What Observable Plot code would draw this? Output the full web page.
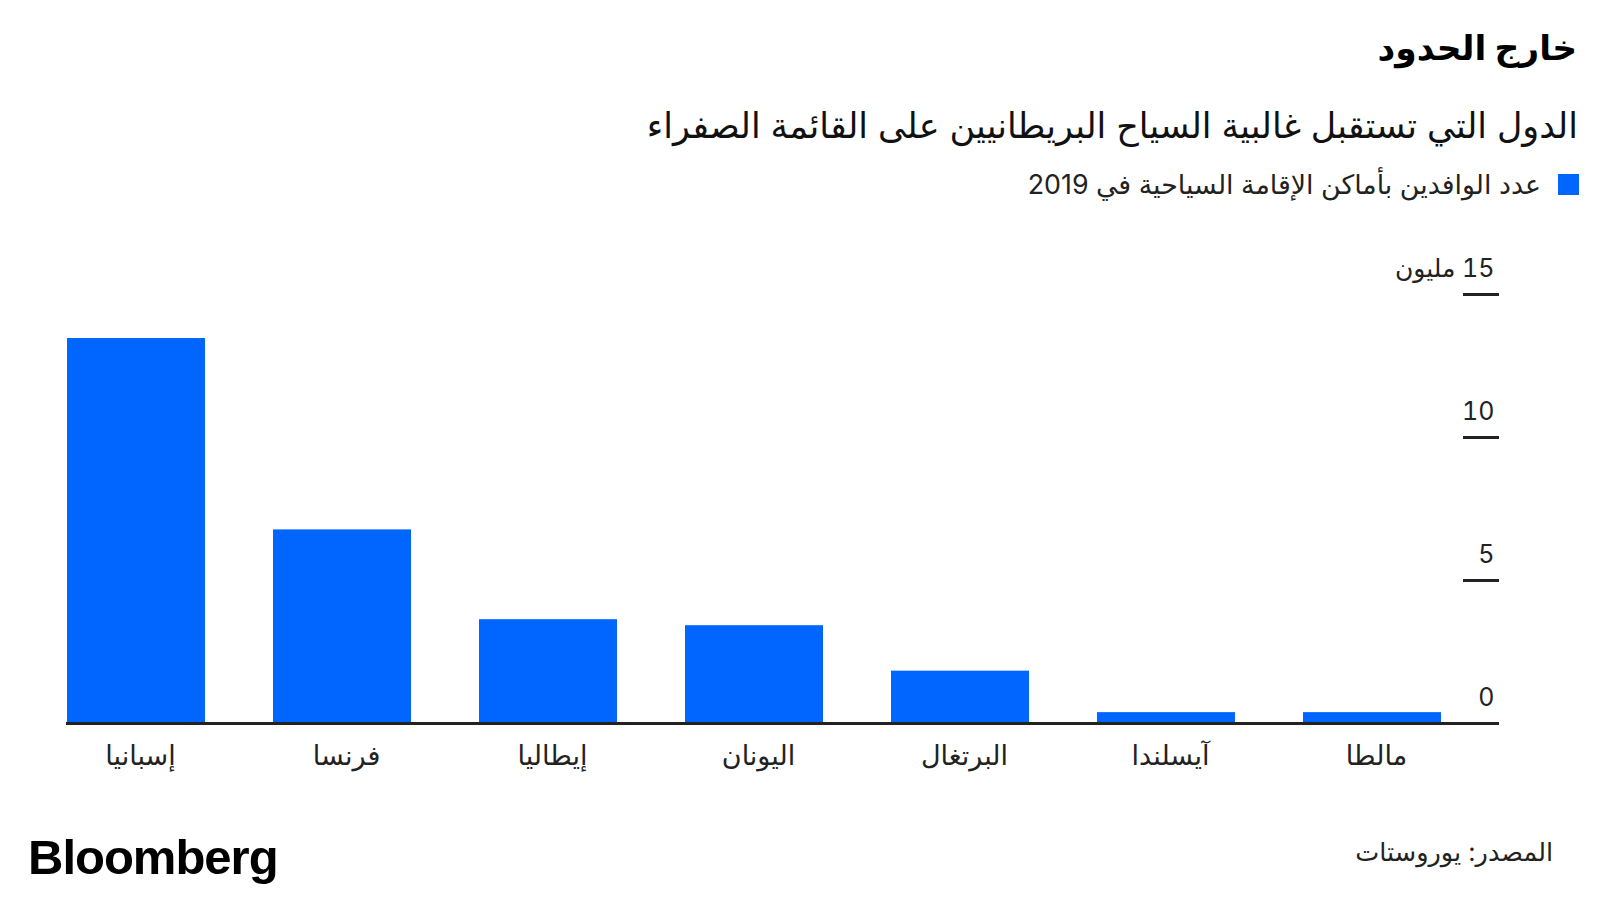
<!DOCTYPE html>
<html lang="ar">
<head>
<meta charset="utf-8">
<script src="https://cdn.jsdelivr.net/npm/d3@7"></script>
<script src="https://cdn.jsdelivr.net/npm/@observablehq/plot@0.6"></script>
<style>
  html, body { margin: 0; padding: 0; background: #fff; }
  body { width: 1600px; height: 900px; position: relative; overflow: hidden;
         font-family: Inter, "DejaVu Sans", sans-serif; color: #111; }
  .rtl { position: absolute; direction: rtl; text-align: right; white-space: nowrap; line-height: 1; }
  #title { right: 23px; top: 31px; font-size: 34.5px; font-weight: 700; color: #000; }
  #subtitle { right: 22px; top: 108px; font-size: 35px; color: #111; }
  #legend { right: 21px; top: 171px; font-size: 26.8px; color: #222; display: flex; align-items: center; gap: 17px; }
  #legend .sw { width: 21px; height: 21px; background: #0066ff; display: inline-block; }
  #chart { position: absolute; left: 0; top: 230px; }
  #source { right: 47px; top: 839px; font-size: 25.5px; color: #222; }
  #logo { position: absolute; left: 28px; top: 833px; font-family: "Liberation Sans", Arial, sans-serif;
          font-weight: 700; font-size: 49px; letter-spacing: -1px; color: #000; line-height: 1; }
</style>
</head>
<body>
<div id="title" class="rtl">خارج الحدود</div>
<div id="subtitle" class="rtl">الدول التي تستقبل غالبية السياح البريطانيين على القائمة الصفراء</div>
<div id="legend" class="rtl"><span class="sw"></span><span>عدد الوافدين بأماكن الإقامة السياحية في 2019</span></div>
<div id="chart"></div>
<div id="source" class="rtl">المصدر: يوروستات</div>
<div id="logo">Bloomberg</div>
<script>
const countries = ["إسبانيا", "فرنسا", "إيطاليا", "اليونان", "البرتغال", "آيسلندا", "مالطا"];
const visitors = [13.46, 6.77, 3.63, 3.42, 1.83, 0.38, 0.38]; // millions, 2019
const yTicks = [0, 5, 10, 15];
const yUnit = "مليون";

const data = countries.map((c, i) => ({country: c, value: visitors[i]}));

const chart = Plot.plot({
  width: 1600,
  height: 550,
  marginLeft: 66,
  marginRight: 102,
  marginTop: 64,
  marginBottom: 57,
  style: {fontFamily: 'Inter, "DejaVu Sans", sans-serif', color: "#222", background: "transparent"},
  x: {domain: countries, range: [66, 1442], paddingInner: 0.33, paddingOuter: 0},
  y: {domain: [0, 15]},
  marks: [
    Plot.barY(data, {x: "country", y: "value", fill: "#0066ff"}),
    Plot.ruleY([0], {stroke: "#222", strokeWidth: 3}),
    Plot.axisX({tickSize: 0, tickPadding: 22, dx: 4, fontSize: 27, label: null, fill: "#222"}),
    Plot.axisY(yTicks, {anchor: "right", tickSize: 36, dx: -36, strokeWidth: 3, stroke: "#222", fill: "none", label: null}),
    Plot.axisY(yTicks, {
      anchor: "right", tickSize: 0, textAnchor: "end", dx: -13, dy: -26, fontSize: 25, fill: "#222", label: null,
      tickFormat: d => d === 15 ? "\u200F" + d + " " + yUnit : String(d)
    })
  ]
});
document.getElementById("chart").appendChild(chart);
</script>
</body>
</html>
